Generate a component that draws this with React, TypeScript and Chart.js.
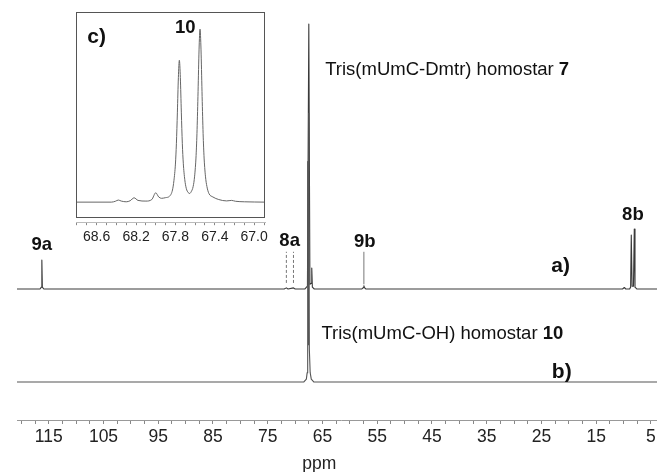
import React, { useEffect, useRef } from 'react';
import { Chart, registerables } from 'chart.js';

Chart.register(...registerables);

const FONT = "'Liberation Sans', Arial, Helvetica, sans-serif";

// ---------- Main spectrum (13C, ppm) ----------
const X_MIN = 2.44;
const X_MAX = 120.8;
const X_TICKS = [
  120, 117.5, 115, 112.5, 110, 107.5, 105, 102.5, 100, 97.5, 95, 92.5, 90, 87.5, 85, 82.5, 80, 77.5,
  75, 72.5, 70, 67.5, 65, 62.5, 60, 57.5, 55, 52.5, 50, 47.5, 45, 42.5, 40, 37.5, 35, 32.5, 30, 27.5,
  25, 22.5, 20, 17.5, 15, 12.5, 10, 7.5, 5,
];
const X_LABELS = [115, 105, 95, 85, 75, 65, 55, 45, 35, 25, 15, 5];
const X_TITLE = 'ppm';
const X_TITLE_PPM = 65.6;

const Y_MIN = -0.409;
const Y_MAX = 4.108;
const OFFSET_A = 1.0; // trace a) sits above trace b)

// trace a) Tris(mUmC-Dmtr) homostar 7
const A_PPM = [120.8, 116.6, 116.35, 116.26, 116.17, 115.9, 72.0, 71.6, 71.3, 70.3, 70.0, 68.2, 67.75, 67.5, 67.3, 67.08, 66.96, 66.85, 66.5, 57.8, 57.55, 57.44, 57.33, 57.1, 10.2, 9.87, 9.6, 8.9, 8.72, 8.6, 8.45, 8.2, 8.05, 7.92, 7.6, 2.44];
const A_INT = [0, 0, 0.02, 0.31, 0.02, 0, 0, 0.012, 0, 0.012, 0, 0, 0.03, 2.85, 0.05, 0.06, 0.226, 0.02, 0, 0, 0.015, 0.035, 0.015, 0, 0, 0.016, 0, 0, 0.02, 0.58, 0.03, 0.03, 0.645, 0.02, 0, 0];

// trace b) Tris(mUmC-OH) homostar 10
const B_PPM = [120.8, 68.4, 67.95, 67.8, 67.72, 67.69, 67.62, 67.55, 67.48, 67.4, 67.25, 67.05, 66.6, 2.44];
const B_INT = [0, 0, 0.03, 0.1, 0.5, 2.37, 0.4, 0.5, 2.89, 0.35, 0.1, 0.03, 0, 0];

// dashed markers for 8a and leader for 9b (values above a) baseline)
const MARK_8A_PPM = [71.6, 70.3];
const MARK_8A_RANGE = [0.065, 0.4];
const LEADER_9B_PPM = 57.44;
const LEADER_9B_RANGE = [0.05, 0.4];

// peak labels
const PEAK_LABELS = ['9a', '8a', '9b', '8b'];
const PEAK_LABEL_PPM = [116.26, 71.0, 57.26, 8.3];
const PEAK_LABEL_Y = [1.473, 1.516, 1.505, 1.796];

const TRACE_LABELS = ['a)', 'b)'];
const TRACE_LABEL_PPM = [21.5, 21.3];
const TRACE_LABEL_Y = [1.247, 0.1075];

const TITLE_A = ['Tris(mUmC-Dmtr) homostar ', '7'];
const TITLE_B = ['Tris(mUmC-OH) homostar ', '10'];
const TITLE_PPM = [64.5, 65.2];
const TITLE_Y = [3.355, 0.516];

// ---------- Inset c) ----------
const IN_X_MIN = 66.89;
const IN_X_MAX = 68.81;
const IN_TICKS = [68.8, 68.7, 68.6, 68.5, 68.4, 68.3, 68.2, 68.1, 68.0, 67.9, 67.8, 67.7, 67.6, 67.5, 67.4, 67.3, 67.2, 67.1, 67.0, 66.9];
const IN_LABELS = [68.6, 68.2, 67.8, 67.4, 67.0];
const IN_Y_MIN = -0.116;
const IN_Y_MAX = 1.099;

const IN_PPM = [
  68.81, 68.45, 68.41, 68.38, 68.35, 68.3, 68.26, 68.22, 68.18, 68.1, 68.04, 68.0, 67.97, 67.94, 67.9, 67.86,
  67.83, 67.815, 67.8, 67.79, 67.78, 67.77, 67.76, 67.75, 67.74, 67.73, 67.72, 67.705, 67.69, 67.67, 67.655,
  67.64, 67.62, 67.605, 67.59, 67.58, 67.57, 67.56, 67.55, 67.54, 67.53, 67.52, 67.51, 67.495, 67.48, 67.46,
  67.42, 67.36, 67.28, 67.23, 67.19, 67.1, 66.89,
];
const IN_INT = [
  0, 0, 0.005, 0.012, 0.006, 0.002, 0.008, 0.025, 0.01, 0.006, 0.015, 0.054, 0.03, 0.022, 0.026, 0.034,
  0.07, 0.125, 0.22, 0.34, 0.52, 0.72, 0.82, 0.72, 0.52, 0.34, 0.225, 0.13, 0.08, 0.055, 0.05,
  0.06, 0.09, 0.15, 0.27, 0.42, 0.64, 0.88, 1.0, 0.88, 0.64, 0.42, 0.27, 0.15, 0.09, 0.05,
  0.03, 0.015, 0.007, 0.01, 0.005, 0.002, 0,
];
const INSET_TAG = 'c)';
const INSET_PEAK_LABEL = '10';
const INSET_TAG_POS = [68.6, 0.953];
const INSET_PEAK_LABEL_POS = [67.7, 1.006];

const toPoints = (xs: number[], ys: number[], off = 0) => xs.map((x, i) => ({ x, y: ys[i] + off }));
const near = (v: number, list: number[]) => list.some((l) => Math.abs(l - v) < 1e-6);

function drawRich(ctx: CanvasRenderingContext2D, parts: string[], x: number, y: number, size: number) {
  ctx.font = `normal ${size}px ${FONT}`;
  ctx.fillText(parts[0], x, y);
  const w = ctx.measureText(parts[0]).width;
  ctx.font = `bold ${size}px ${FONT}`;
  ctx.fillText(parts[1], x + w, y);
}

const mainTextPlugin = {
  id: 'mainText',
  afterDatasetsDraw(chart: any) {
    const { ctx, scales } = chart;
    const xs = scales.x;
    const ys = scales.y;
    ctx.save();
    ctx.fillStyle = '#111';
    ctx.textBaseline = 'middle';
    ctx.textAlign = 'center';
    ctx.font = `bold 18.5px ${FONT}`;
    PEAK_LABELS.forEach((t, i) => {
      ctx.fillText(t, xs.getPixelForValue(PEAK_LABEL_PPM[i]), ys.getPixelForValue(PEAK_LABEL_Y[i]));
    });
    ctx.font = `bold 21px ${FONT}`;
    TRACE_LABELS.forEach((t, i) => {
      ctx.fillText(t, xs.getPixelForValue(TRACE_LABEL_PPM[i]), ys.getPixelForValue(TRACE_LABEL_Y[i]));
    });
    ctx.textAlign = 'left';
    [TITLE_A, TITLE_B].forEach((parts, i) => {
      drawRich(ctx, parts, xs.getPixelForValue(TITLE_PPM[i]), ys.getPixelForValue(TITLE_Y[i]), 18.5);
    });
    // axis title
    ctx.textAlign = 'center';
    ctx.fillStyle = '#222';
    ctx.font = `normal 17.5px ${FONT}`;
    ctx.fillText(X_TITLE, xs.getPixelForValue(X_TITLE_PPM), chart.chartArea.bottom + 44);
    ctx.restore();
  },
};

const insetPlugin = {
  id: 'insetBox',
  beforeDatasetsDraw(chart: any) {
    const { ctx, chartArea } = chart;
    ctx.save();
    ctx.fillStyle = '#ffffff';
    ctx.fillRect(chartArea.left, chartArea.top, chartArea.right - chartArea.left, chartArea.bottom - chartArea.top - 4);
    ctx.restore();
  },
  afterDatasetsDraw(chart: any) {
    const { ctx, chartArea, scales } = chart;
    ctx.save();
    ctx.strokeStyle = '#555';
    ctx.lineWidth = 1;
    ctx.strokeRect(
      Math.round(chartArea.left) + 0.5,
      Math.round(chartArea.top) + 0.5,
      Math.round(chartArea.right - chartArea.left) - 1,
      Math.round(chartArea.bottom - chartArea.top) - 5,
    );
    ctx.fillStyle = '#111';
    ctx.textBaseline = 'middle';
    ctx.textAlign = 'center';
    ctx.font = `bold 21px ${FONT}`;
    ctx.fillText(INSET_TAG, scales.x.getPixelForValue(INSET_TAG_POS[0]), scales.y.getPixelForValue(INSET_TAG_POS[1]));
    ctx.font = `bold 18.5px ${FONT}`;
    ctx.fillText(
      INSET_PEAK_LABEL,
      scales.x.getPixelForValue(INSET_PEAK_LABEL_POS[0]),
      scales.y.getPixelForValue(INSET_PEAK_LABEL_POS[1]),
    );
    ctx.restore();
  },
};

export default function App() {
  const mainRef = useRef<HTMLCanvasElement>(null);
  const insetRef = useRef<HTMLCanvasElement>(null);

  useEffect(() => {
    if (!mainRef.current || !insetRef.current) return;

    const lineDs = (data: any[], color: string, width = 1, dash: number[] = [], smooth = false) => ({
      data,
      borderColor: color,
      borderWidth: width,
      borderDash: dash,
      borderJoinStyle: 'round',
      borderCapStyle: 'butt',
      pointRadius: 0,
      tension: smooth ? 0.4 : 0,
      cubicInterpolationMode: smooth ? 'monotone' : 'default',
      fill: false,
    });

    const main = new Chart(mainRef.current, {
      type: 'line',
      data: {
        datasets: [
          lineDs(toPoints(B_PPM, B_INT), '#555', 1.1),
          lineDs(toPoints(A_PPM, A_INT, OFFSET_A), '#3a3a3a', 1.1),
          ...MARK_8A_PPM.map((p) =>
            lineDs(
              [
                { x: p, y: OFFSET_A + MARK_8A_RANGE[0] },
                { x: p, y: OFFSET_A + MARK_8A_RANGE[1] },
              ],
              '#777',
              1,
              [3, 2],
            ),
          ),
          lineDs(
            [
              { x: LEADER_9B_PPM, y: OFFSET_A + LEADER_9B_RANGE[0] },
              { x: LEADER_9B_PPM, y: OFFSET_A + LEADER_9B_RANGE[1] },
            ],
            '#777',
            1,
          ),
        ],
      },
      options: {
        animation: false,
        responsive: false,
        events: [],
        layout: { padding: { left: 17, right: 0, top: 0, bottom: 21 } },
        plugins: { legend: { display: false }, tooltip: { enabled: false } },
        scales: {
          x: {
            type: 'linear',
            reverse: true,
            min: X_MIN,
            max: X_MAX,
            afterBuildTicks: (scale: any) => {
              scale.ticks = X_TICKS.map((v) => ({ value: v }));
            },
            grid: { drawOnChartArea: false, tickLength: 4, color: '#888' },
            border: { display: true, color: '#999' },
            ticks: {
              autoSkip: false,
              maxRotation: 0,
              padding: 3,
              color: '#222',
              font: { family: FONT, size: 17.5 },
              callback: (v: any) => (near(Number(v), X_LABELS) ? String(v) : ''),
            },
          },
          y: { display: false, min: Y_MIN, max: Y_MAX },
        },
      } as any,
      plugins: [mainTextPlugin],
    });

    const inset = new Chart(insetRef.current, {
      type: 'line',
      data: {
        datasets: [lineDs(toPoints(IN_PPM, IN_INT), '#666', 1, [], true)],
      },
      options: {
        animation: false,
        responsive: false,
        events: [],
        layout: { padding: { left: 76, right: 35, top: 12, bottom: 0 } },
        plugins: { legend: { display: false }, tooltip: { enabled: false } },
        scales: {
          x: {
            type: 'linear',
            reverse: true,
            min: IN_X_MIN,
            max: IN_X_MAX,
            afterBuildTicks: (scale: any) => {
              scale.ticks = IN_TICKS.map((v) => ({ value: v }));
            },
            grid: { drawOnChartArea: false, tickLength: 3, color: '#888' },
            border: { display: true, color: '#bbb' },
            ticks: {
              autoSkip: false,
              maxRotation: 0,
              padding: 4,
              color: '#222',
              font: { family: FONT, size: 14 },
              callback: (v: any) => (near(Number(v), IN_LABELS) ? Number(v).toFixed(1) : ''),
            },
          },
          y: { display: false, min: IN_Y_MIN, max: IN_Y_MAX },
        },
      } as any,
      plugins: [insetPlugin],
    });

    return () => {
      main.destroy();
      inset.destroy();
    };
  }, []);

  return (
    <div style={{ position: 'absolute', left: 0, top: 0, width: 657, height: 472, background: '#fff', overflow: 'hidden' }}>
      <canvas ref={mainRef} width={665} height={472} style={{ position: 'absolute', left: 0, top: 0, display: 'block' }} />
      <canvas ref={insetRef} width={300} height={250} style={{ position: 'absolute', left: 0, top: 0, display: 'block' }} />
    </div>
  );
}
